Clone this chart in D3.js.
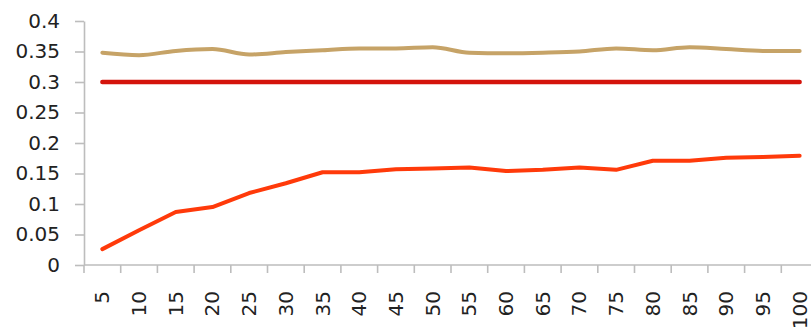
<!DOCTYPE html>
<html>
<head>
<meta charset="utf-8">
<script src="https://cdn.jsdelivr.net/npm/d3@7"></script>
<style>
  html, body { margin: 0; padding: 0; background: #fff; }
  svg { display: block; }
  text { font-family: "DejaVu Sans", sans-serif; font-size: 20px; fill: #222; }
</style>
</head>
<body>
<svg id="chart" width="811" height="329"></svg>
<script>
// Categories along the x axis
const categories = [5, 10, 15, 20, 25, 30, 35, 40, 45, 50, 55, 60, 65, 70, 75, 80, 85, 90, 95, 100];

// Series values
const upperSeries = [0.348, 0.344, 0.351, 0.354, 0.345, 0.349, 0.352, 0.355, 0.355, 0.357,
                     0.348, 0.347, 0.348, 0.350, 0.355, 0.352, 0.357, 0.354, 0.351, 0.351];
const thresholdSeries = [0.3, 0.3, 0.3, 0.3, 0.3, 0.3, 0.3, 0.3, 0.3, 0.3,
                         0.3, 0.3, 0.3, 0.3, 0.3, 0.3, 0.3, 0.3, 0.3, 0.3];
const lowerSeries = [0.026, 0.057, 0.087, 0.095, 0.118, 0.134, 0.152, 0.152, 0.157, 0.158,
                     0.160, 0.154, 0.156, 0.160, 0.156, 0.171, 0.171, 0.176, 0.177, 0.179];

// Y axis tick labels
const yTicks = [0, 0.05, 0.1, 0.15, 0.2, 0.25, 0.3, 0.35, 0.4];
const yTickLabels = ["0", "0.05", "0.1", "0.15", "0.2", "0.25", "0.3", "0.35", "0.4"];

const svg = d3.select("#chart");
const plotLeft = 84, plotTop = 21, plotBottom = 265, bandW = 36.7;

const x = d3.scaleBand()
  .domain(categories)
  .range([plotLeft, plotLeft + bandW * categories.length])
  .paddingInner(0).paddingOuter(0);

const y = d3.scaleLinear().domain([0, 0.4]).range([plotBottom, plotTop]);

const axisColor = "#bdbdbd";

// Y axis
const yAxis = d3.axisLeft(y)
  .tickValues(yTicks)
  .tickFormat((d, i) => yTickLabels[i])
  .tickSizeInner(9).tickSizeOuter(0).tickPadding(15);
const gy = svg.append("g").attr("transform", `translate(${plotLeft},0)`).call(yAxis);
gy.select(".domain").attr("stroke", axisColor).attr("stroke-width", 1.6);
gy.selectAll(".tick line").attr("stroke", axisColor).attr("stroke-width", 1.6);
gy.selectAll(".tick text").attr("font-family", "DejaVu Sans").attr("font-size", 20).attr("fill", "#222");

// X axis: labels centred on categories, ticks at category boundaries
const xAxis = d3.axisBottom(x).tickSize(0).tickPadding(0);
const gx = svg.append("g").attr("transform", `translate(0,${plotBottom})`).call(xAxis);
gx.select(".domain").remove();
gx.append("line")
  .attr("x1", plotLeft).attr("x2", 811)
  .attr("y1", 0).attr("y2", 0)
  .attr("stroke", axisColor).attr("stroke-width", 1.6);
gx.selectAll(".boundary")
  .data(categories)
  .enter().append("line")
  .attr("class", "boundary")
  .attr("x1", d => x(d)).attr("x2", d => x(d))
  .attr("y1", 0).attr("y2", 8)
  .attr("stroke", axisColor).attr("stroke-width", 1.6);
gx.selectAll(".tick text")
  .attr("font-family", "DejaVu Sans").attr("font-size", 20).attr("fill", "#222")
  .attr("text-anchor", "end")
  .attr("transform", "translate(0,26) rotate(-90)")
  .attr("x", 0).attr("y", 0).attr("dy", "0.35em");

const cx = d => x(d) + x.bandwidth() / 2;

function drawLine(values, color, width, curve) {
  const line = d3.line()
    .x((d, i) => cx(categories[i]))
    .y(d => y(d))
    .curve(curve);
  svg.append("path")
    .datum(values)
    .attr("fill", "none")
    .attr("stroke", color)
    .attr("stroke-width", width)
    .attr("stroke-linecap", "round")
    .attr("stroke-linejoin", "round")
    .attr("d", line);
}

drawLine(upperSeries, "#c6a367", 4, d3.curveMonotoneX);
drawLine(thresholdSeries, "#d4140c", 4.5, d3.curveLinear);
drawLine(lowerSeries, "#ff3a0a", 4, d3.curveLinear);
</script>
</body>
</html>
